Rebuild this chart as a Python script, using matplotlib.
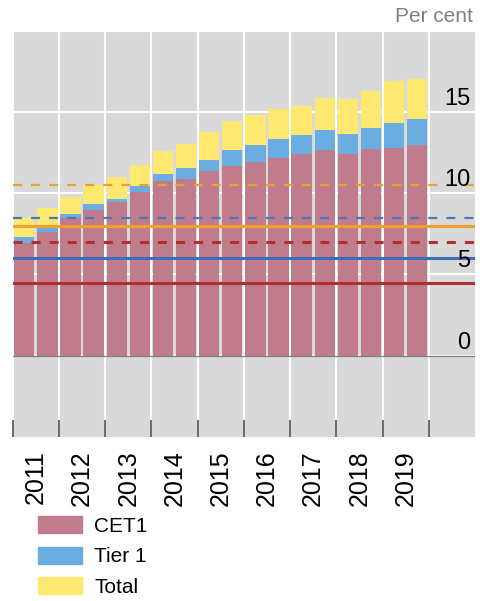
import matplotlib
matplotlib.use("Agg")
import matplotlib.pyplot as plt
from matplotlib.patches import Patch

# ---------- data (per cent, half-yearly) ----------
periods = ["2011H1", "2011H2", "2012H1", "2012H2", "2013H1", "2013H2",
           "2014H1", "2014H2", "2015H1", "2015H2", "2016H1", "2016H2",
           "2017H1", "2017H2", "2018H1", "2018H2", "2019H1", "2019H2"]
cet1 = [6.95, 7.6, 8.45, 9.0, 9.45, 10.1, 10.75, 10.85, 11.35, 11.7,
        11.9, 12.15, 12.45, 12.65, 12.45, 12.75, 12.8, 12.95]
tier1 = [7.3, 7.9, 8.7, 9.35, 9.65, 10.45, 11.2, 11.55, 12.05, 12.65,
         12.95, 13.35, 13.6, 13.9, 13.65, 14.0, 14.35, 14.6]
total = [8.45, 9.1, 9.8, 10.5, 11.0, 11.75, 12.6, 13.05, 13.75, 14.45,
         14.8, 15.2, 15.4, 15.9, 15.8, 16.3, 16.9, 17.05]
year_labels = ["2011", "2012", "2013", "2014", "2015", "2016", "2017", "2018", "2019"]

# requirements: (value, colour, style)
req_lines = [
    (4.5, "#b0302f", "solid"),    # CET1 minimum
    (7.0, "#b0302f", "dashed"),   # CET1 incl. buffer
    (6.0, "#3f6db5", "solid"),    # Tier 1 minimum
    (8.5, "#4a78b8", "dashed"),   # Tier 1 incl. buffer
    (8.0, "#f0a030", "solid"),    # Total minimum
    (10.5, "#eba030", "dashed"),  # Total incl. buffer
]

C_CET1 = "#c07c8c"
C_TIER1 = "#6aade0"
C_TOTAL = "#ffe870"
BG = "#d9d9d9"

plt.rcParams["font.family"] = ["Liberation Sans", "DejaVu Sans"]
plt.rcParams["lines.scale_dashes"] = False

fig = plt.figure(figsize=(4.84, 6.01), dpi=100)
ax = fig.add_axes([0.0262, 0.2734, 0.9552, 0.675])
ax.set_facecolor(BG)

x = [int(p[:4]) + (0.25 if p.endswith("H1") else 0.75) for p in periods]
w = 0.44
ax.bar(x, total, width=w, color=C_TOTAL, zorder=2)
ax.bar(x, tier1, width=w, color=C_TIER1, zorder=3)
ax.bar(x, cet1, width=w, color=C_CET1, zorder=4)

for val, col, ls in req_lines:
    if ls == "solid":
        ax.axhline(val, color=col, lw=2.2, zorder=6)
    else:
        lw = 2.2 if col == "#b0302f" else 1.6
        ax.axhline(val, color=col, lw=lw, dashes=(6.5, 6.5), zorder=6)

ax.axhline(0, color="#7f7f7f", lw=0.9, zorder=5)

ax.set_xlim(2011, 2021)
ax.set_ylim(-5, 20)
ax.set_xticks(range(2011, 2021))
ax.set_xticks([y + 0.5 for y in range(2011, 2020)], minor=True)
ax.set_xticklabels([])
ax.set_xticklabels(year_labels, minor=True, rotation=90, fontsize=18)
ax.tick_params(axis="x", which="major", direction="in", length=12, width=1.1,
               color="#404040")
ax.tick_params(axis="x", which="minor", length=0, pad=10)
ax.set_yticks([0, 5, 10, 15, 20])
ax.tick_params(axis="y", length=0, labelleft=False)
ax.grid(True, which="major", color="white", lw=1.5)
ax.set_axisbelow(True)
for s in ax.spines.values():
    s.set_visible(False)

for t in [0, 5, 10, 15]:
    ax.annotate(str(t), xy=(1, t), xycoords=("axes fraction", "data"),
                xytext=(-3.5, 5), textcoords="offset points",
                ha="right", va="baseline", fontsize=17, color="black", zorder=7)

fig.text(0.977, 0.972, "Per cent", ha="right", va="center", fontsize=15, color="#7f7f7f")

handles = [Patch(color=C_CET1), Patch(color=C_TIER1), Patch(color=C_TOTAL)]
fig.legend(handles, ["CET1", "Tier 1", "Total"], loc="upper left",
           bbox_to_anchor=(0.078, 0.141), frameon=False, fontsize=15,
           handlelength=2.1, handleheight=0.87, handletextpad=0.6,
           labelspacing=0.52, borderpad=0, borderaxespad=0)

fig.savefig("out.png", dpi=100)
